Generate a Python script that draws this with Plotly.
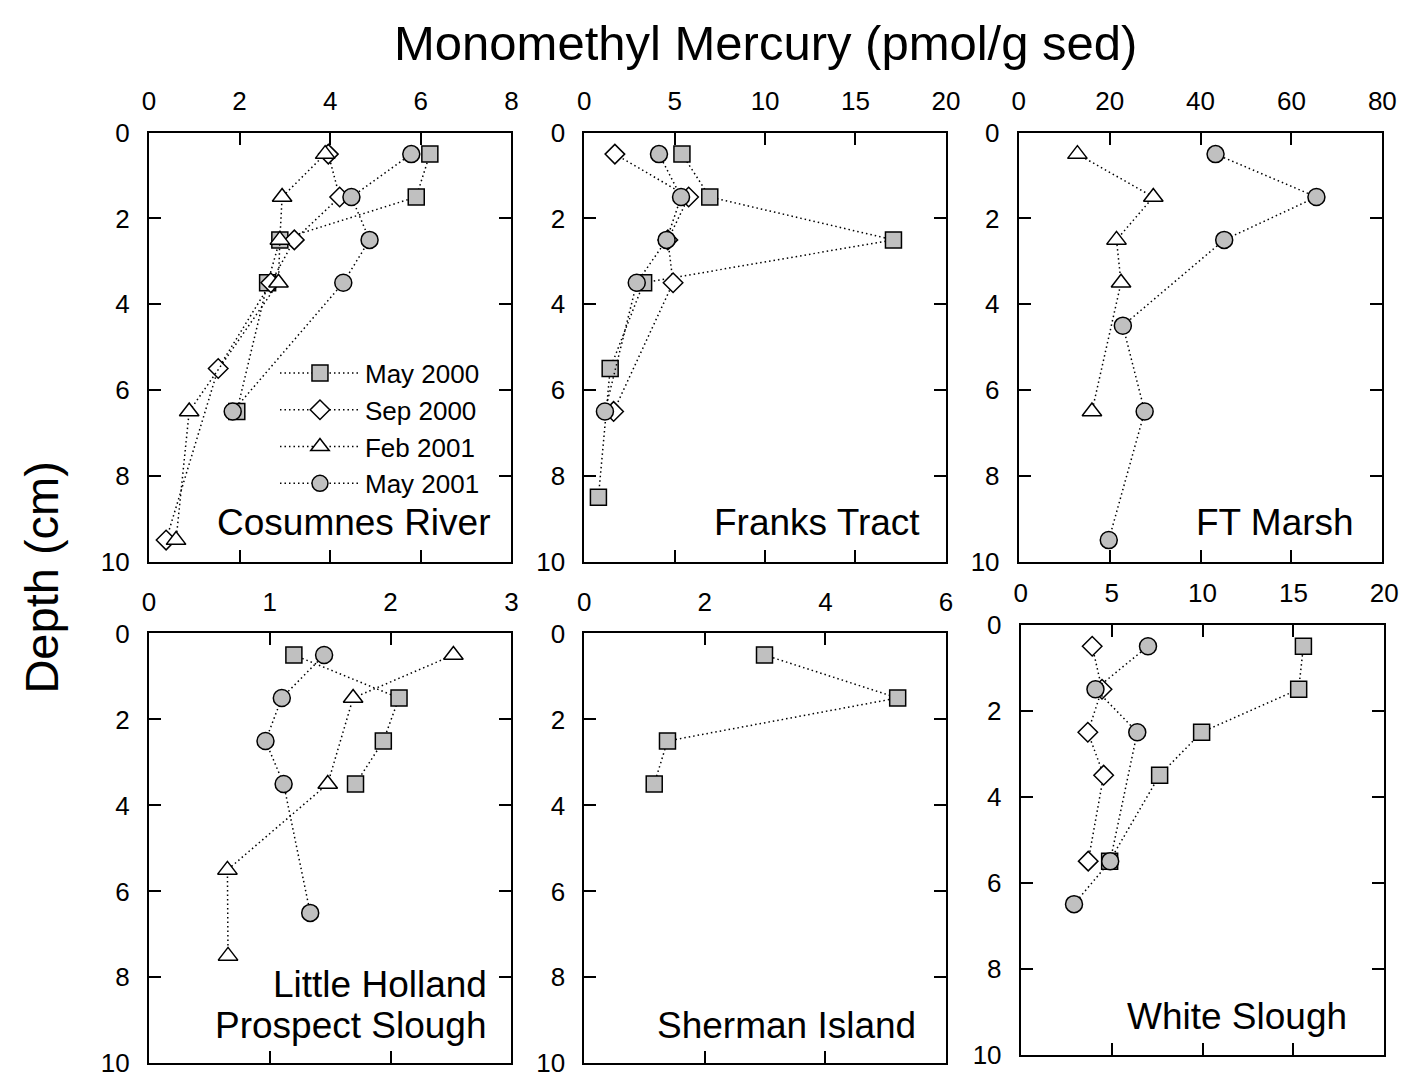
import plotly.graph_objects as go

# ---- Monomethyl mercury profiles (pmol/g sed) by sediment depth (cm) ----
SERIES = ["May 2000", "Sep 2000", "Feb 2001", "May 2001"]

# Cosumnes River
cos_may00_d = [0.5, 1.5, 2.5, 3.5, 6.5]
cos_may00_v = [6.2, 5.9, 2.89, 2.62, 1.94]
cos_sep00_d = [0.5, 1.5, 2.5, 3.5, 5.5, 9.5]
cos_sep00_v = [3.96, 4.21, 3.21, 2.69, 1.53, 0.38]
cos_feb01_d = [0.5, 1.5, 2.5, 3.5, 6.5, 9.5]
cos_feb01_v = [3.89, 2.94, 2.89, 2.86, 0.89, 0.60]
cos_may01_d = [0.5, 1.5, 2.5, 3.5, 6.5]
cos_may01_v = [5.79, 4.47, 4.87, 4.29, 1.85]

# Franks Tract
fra_may00_d = [0.5, 1.5, 2.5, 3.5, 5.5, 8.5]
fra_may00_v = [5.4, 6.94, 17.1, 3.28, 1.43, 0.78]
fra_sep00_d = [0.5, 1.5, 2.5, 3.5, 6.5]
fra_sep00_v = [1.69, 5.77, 4.62, 4.91, 1.62]
fra_may01_d = [0.5, 1.5, 2.5, 3.5, 6.5]
fra_may01_v = [4.13, 5.35, 4.55, 2.90, 1.14]

# FT Marsh
ftm_feb01_d = [0.5, 1.5, 2.5, 3.5, 6.5]
ftm_feb01_v = [12.9, 29.6, 21.5, 22.5, 16.1]
ftm_may01_d = [0.5, 1.5, 2.5, 4.5, 6.5, 9.5]
ftm_may01_v = [43.3, 65.5, 45.2, 22.9, 27.7, 19.8]

# Little Holland / Prospect Slough
lh_may00_d = [0.5, 1.5, 2.5, 3.5]
lh_may00_v = [1.2, 2.07, 1.94, 1.71]
lh_feb01_d = [0.5, 1.5, 3.5, 5.5, 7.5]
lh_feb01_v = [2.52, 1.69, 1.48, 0.65, 0.655]
lh_may01_d = [0.5, 1.5, 2.5, 3.5, 6.5]
lh_may01_v = [1.45, 1.10, 0.965, 1.115, 1.335]

# Sherman Island
sh_may00_d = [0.5, 1.5, 2.5, 3.5]
sh_may00_v = [2.99, 5.2, 1.38, 1.16]

# White Slough
ws_may00_d = [0.5, 1.5, 2.5, 3.5, 5.5]
ws_may00_v = [15.55, 15.29, 9.95, 7.64, 4.89]
ws_sep00_d = [0.5, 1.5, 2.5, 3.5, 5.5]
ws_sep00_v = [3.93, 4.47, 3.69, 4.56, 3.71]
ws_may01_d = [0.5, 1.5, 2.5, 5.5, 6.5]
ws_may01_v = [7.0, 4.11, 6.41, 4.92, 2.93]

# x-axis ranges and tick steps per panel
x_ranges = [[0, 8], [0, 20], [0, 80], [0, 3], [0, 6], [0, 20]]
x_dticks = [2, 5, 20, 1, 2, 5]
site_names = ["Cosumnes River", "Franks Tract", "FT Marsh",
              ["Little Holland", "Prospect Slough"], "Sherman Island", "White Slough"]

# ---- styling ----
W, H = 1418, 1090
FONT = "Liberation Sans, Arial, Helvetica, sans-serif"
GRAY = "#c0c0c0"
STYLE = {
    "May 2000": dict(symbol="square", size=16, color=GRAY),
    "Sep 2000": dict(symbol="diamond", size=15, color="white"),
    "Feb 2001": dict(symbol="triangle-up", size=17, color="white"),
    "May 2001": dict(symbol="circle", size=17, color=GRAY),
}

# panel boxes in pixels: (left, right, top, bottom)
boxes = [(144, 512, 121, 562), (586, 953, 121, 562), (1027, 1396, 121, 562),
         (144, 512, 636, 1078), (586, 953, 636, 1078), (1029, 1398, 627, 1069)]

fig = go.Figure()


def add_series(panel, name, depth, values):
    st = STYLE[name]
    fig.add_trace(go.Scatter(
        x=values, y=depth, name=name, mode="lines+markers",
        xaxis="x" if panel == 1 else f"x{panel}",
        yaxis="y" if panel == 1 else f"y{panel}",
        line=dict(color="black", width=1.5, dash="1.5px,3px"),
        marker=dict(symbol=st["symbol"], size=st["size"], color=st["color"],
                    line=dict(color="black", width=1.5)),
        showlegend=(panel == 1), cliponaxis=False,
    ))


# drawing order: later series on top
add_series(1, "May 2000", cos_may00_d, cos_may00_v)
add_series(1, "Sep 2000", cos_sep00_d, cos_sep00_v)
add_series(1, "Feb 2001", cos_feb01_d, cos_feb01_v)
add_series(1, "May 2001", cos_may01_d, cos_may01_v)

add_series(2, "May 2000", fra_may00_d, fra_may00_v)
add_series(2, "Sep 2000", fra_sep00_d, fra_sep00_v)
add_series(2, "May 2001", fra_may01_d, fra_may01_v)

add_series(3, "Feb 2001", ftm_feb01_d, ftm_feb01_v)
add_series(3, "May 2001", ftm_may01_d, ftm_may01_v)

add_series(4, "May 2000", lh_may00_d, lh_may00_v)
add_series(4, "Feb 2001", lh_feb01_d, lh_feb01_v)
add_series(4, "May 2001", lh_may01_d, lh_may01_v)

add_series(5, "May 2000", sh_may00_d, sh_may00_v)

add_series(6, "May 2000", ws_may00_d, ws_may00_v)
add_series(6, "Sep 2000", ws_sep00_d, ws_sep00_v)
add_series(6, "May 2001", ws_may01_d, ws_may01_v)

axis_common = dict(
    showline=True, linecolor="black", linewidth=2, mirror="ticks",
    ticks="inside", ticklen=12, tickwidth=2, tickcolor="black",
    showgrid=False, zeroline=False,
    tickfont=dict(family=FONT, size=26, color="black"),
)

layout = {}
for i, (l, r, t, b) in enumerate(boxes, start=1):
    suffix = "" if i == 1 else str(i)
    layout[f"xaxis{suffix}"] = dict(
        axis_common, domain=[l / W, r / W], range=x_ranges[i - 1],
        dtick=x_dticks[i - 1], tick0=0, side="top",
        anchor=f"y{suffix}", ticklabelstandoff=10,
    )
    layout[f"yaxis{suffix}"] = dict(
        axis_common, domain=[1 - b / H, 1 - t / H], range=[10, 0],
        dtick=2, tick0=0, anchor=f"x{suffix}", ticklabelstandoff=12,
    )

# site labels, right-aligned inside each panel: (panel, text, right gap px, centre y px)
label_specs = [
    (1, site_names[0], 20, 522),
    (2, site_names[1], 24, 522),
    (3, site_names[2], 27, 522),
    (4, site_names[3][0], 23, 997),
    (4, site_names[3][1], 23, 1039),
    (5, site_names[4], 28, 1039),
    (6, site_names[5], 36, 1030),
]
annotations = []
for panel, text, gap, yc in label_specs:
    l, r, t, b = boxes[panel - 1]
    annotations.append(dict(
        text=text, xref="paper", yref="paper",
        x=(r - gap) / W, y=1 - yc / H, xanchor="right", yanchor="middle",
        showarrow=False, font=dict(family=FONT, size=37, color="black"),
    ))

annotations.append(dict(
    text="Monomethyl Mercury (pmol/g sed)", xref="paper", yref="paper",
    x=770 / W, y=1 - 29 / H, xanchor="center", yanchor="middle",
    showarrow=False, font=dict(family=FONT, size=49, color="black"),
))
annotations.append(dict(
    text="Depth (cm)", xref="paper", yref="paper", textangle=-90,
    x=35 / W, y=1 - 578 / H, xanchor="center", yanchor="middle",
    showarrow=False, font=dict(family=FONT, size=47, color="black"),
))

fig.update_layout(
    width=W, height=H, margin=dict(l=0, r=0, t=0, b=0),
    paper_bgcolor="white", plot_bgcolor="white",
    font=dict(family=FONT, color="black"),
    annotations=annotations,
    legend=dict(
        x=272 / W, y=1 - 344 / H, xanchor="left", yanchor="top",
        bgcolor="rgba(0,0,0,0)", borderwidth=0,
        font=dict(family=FONT, size=26, color="black"),
        itemwidth=80, tracegroupgap=0,
    ),
    **layout,
)

fig.write_html("out.html")
